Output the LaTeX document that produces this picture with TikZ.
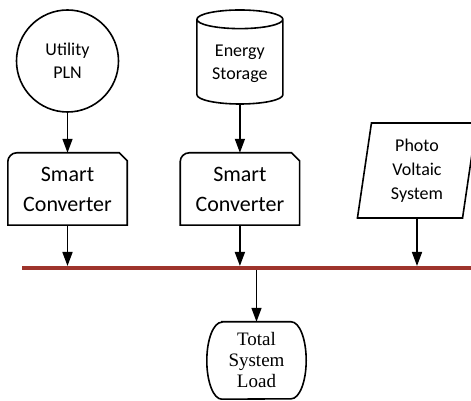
\documentclass[tikz,border=0pt]{standalone}
\usepackage{fontspec}
\setmainfont{Carlito}
\newfontfamily\loadfont{Liberation Serif}
\usetikzlibrary{shapes.geometric, arrows.meta, positioning}
\definecolor{busred}{RGB}{158,52,44}

\begin{document}
\begin{tikzpicture}[
    x=1pt, y=1pt,
    every node/.style={font=\fontsize{18}{23}\selectfont},
    outline/.style={draw, line width=1.6pt},
    sourcecircle/.style={circle, outline, minimum size=102pt, align=center},
    storagebox/.style={cylinder, outline, shape border rotate=90, aspect=0.3,
                       minimum width=86pt, minimum height=94pt, align=center},
    convbox/.style={minimum width=119pt, minimum height=72pt, inner sep=0pt,
                    align=center, font=\fontsize{22}{30}\selectfont},
    pvbox/.style={trapezium, outline, trapezium stretches=true,
                  trapezium left angle=82.8, trapezium right angle=97.2,
                  minimum width=120pt, minimum height=95pt, inner sep=0pt,
                  align=center, font=\fontsize{18}{24}\selectfont},
    loadbox/.style={minimum width=99pt, minimum height=77pt, inner sep=0pt,
                    align=center, font=\loadfont\fontsize{19}{21}\selectfont},
    arr/.style={-{Triangle[length=14pt, width=10pt]}, line width=1.6pt},
    bus/.style={busred, line width=4pt},
]
\useasboundingbox (0,0) rectangle (471,401);
\clip (0,0) rectangle (471,401);

% converters
\node[convbox] (conv1) at (67.5,212) {Smart\\Converter};
\node[convbox, right=53pt of conv1] (conv2) {Smart\\Converter};
\foreach \n in {conv1, conv2}
  \draw[outline] (\n.south west) -- ([yshift=-9pt]\n.north west)
    arc[start angle=180, end angle=90, radius=9pt]
    -- ([xshift=-8pt]\n.north east) -- ([yshift=-8pt]\n.north east)
    -- (\n.south east) -- cycle;

% sources
\node[sourcecircle, above=40pt of conv1] (pln) {Utility\\PLN};
\node[storagebox, above=48pt of conv2] (storage) {Energy\\Storage};
\node[pvbox] (pv) at (417,230.5) {Photo\\Voltaic\\System};

% bus and load
\coordinate (busL) at (22,133);
\coordinate (busR) at (471,133);
\node[loadbox] (load) at (256.5,40.5) {Total\\System\\Load};
\draw[outline] ([xshift=15pt]load.north west) -- ([xshift=-15pt]load.north east)
  arc[start angle=90, end angle=-90, x radius=15pt, y radius=38.5pt]
  -- ([xshift=15pt]load.south west)
  arc[start angle=270, end angle=90, x radius=15pt, y radius=38.5pt] -- cycle;

\draw[bus] (busL) -- (busR);

\draw[arr] (pln)     -- (conv1);
\draw[arr] (storage) -- (conv2);
\draw[arr, shorten >=2pt] (conv1) -- (conv1 |- busL);
\draw[arr, shorten >=2pt] (conv2) -- (conv2 |- busL);
\draw[arr, shorten >=2pt] (pv.south) -- (pv.south |- busL);
\draw[arr, shorten <=2pt] (load.north |- busL) -- (load);

\end{tikzpicture}
\end{document}
